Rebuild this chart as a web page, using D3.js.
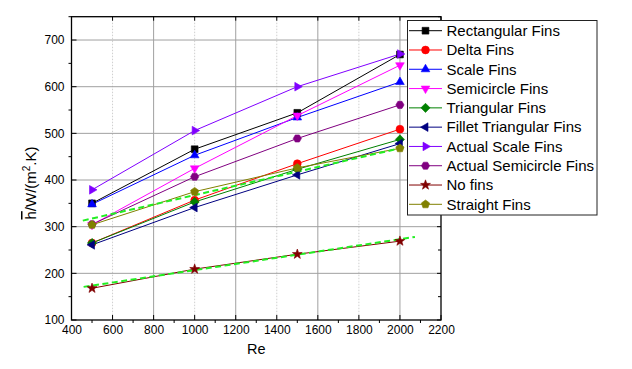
<!DOCTYPE html>
<html><head><meta charset="utf-8">
<script src="https://cdn.jsdelivr.net/npm/d3@7"></script>
<style>
body{margin:0;background:#fff;}
text{font-family:"Liberation Sans",Arial,sans-serif;fill:#000;}
</style></head>
<body><svg id="c" width="632" height="369"></svg>
<script>
const reValues = [500, 1000, 1500, 2000];
const seriesNames = ["Rectangular Fins","Delta Fins","Scale Fins","Semicircle Fins","Triangular Fins","Fillet Triangular Fins","Actual Scale Fins","Actual Semicircle Fins","No fins","Straight Fins"];
const rectangular = [350, 466, 544, 669];
const delta = [265, 357, 435, 509];
const scale = [348, 453, 534, 610];
const semicircle = [304, 425, 538, 646];
const triangular = [265, 353, 423, 487];
const filletTriangular = [261, 341, 411, 478];
const actualScale = [379, 506, 600, 670];
const actualSemicircle = [305, 407, 489, 561];
const noFins = [168, 209, 241, 269];
const straight = [304, 375, 426, 468];
const seriesColors = ["#000000","#ff0000","#0000ff","#ff00ff","#008000","#000080","#8000ff","#800080","#800000","#808000"];
const seriesMarkers = ["square","circle","up","down","diamond","left","right","hexagon","star","pentagon"];
const fitStraight = [[455, 313], [2050, 473]];
const fitNoFins = [[459, 171], [2073, 278]];
const xTicks = [400,600,800,1000,1200,1400,1600,1800,2000,2200];
const yTicks = [100,200,300,400,500,600,700];

const seriesValues = [rectangular, delta, scale, semicircle, triangular, filletTriangular, actualScale, actualSemicircle, noFins, straight];

const svg = d3.select("#c");
const L = 71.5, R = 441, T = 16.7, B = 320;
const x = d3.scaleLinear().domain([400, 2200]).range([L, R]);
const y = d3.scaleLinear().domain([100, 750]).range([B, T]);

// grid
const g = svg.append("g");
xTicks.forEach(t => {
  if (t === 400 || t === 2200) return;
  const major = (t % 400 === 0);
  g.append("line").attr("x1", x(t)).attr("x2", x(t)).attr("y1", T).attr("y2", B)
    .attr("stroke", major ? "#a0a0a0" : "#cfcfcf").attr("stroke-width", 1)
    .attr("stroke-dasharray", major ? null : "1.5,1.5");
});
yTicks.forEach(t => {
  if (t === 100) return;
  g.append("line").attr("x1", L).attr("x2", R).attr("y1", y(t)).attr("y2", y(t))
    .attr("stroke", "#a0a0a0").attr("stroke-width", 1);
});

// axes
const xAxis = d3.axisBottom(x).tickValues(xTicks).tickSize(0).tickPadding(5).tickFormat(d3.format("d"));
const yAxis = d3.axisLeft(y).tickValues(yTicks).tickSize(0).tickPadding(7).tickFormat(d3.format("d"));
const xa = svg.append("g").attr("transform", `translate(0,${B})`).call(xAxis);
const ya = svg.append("g").attr("transform", `translate(${L},0)`).call(yAxis);
[xa, ya].forEach(a => { a.select(".domain").remove(); a.selectAll("text").attr("font-size", 12).attr("font-family", "Liberation Sans, Arial, sans-serif").attr("fill", "#000"); });

// ticks
const tk = svg.append("g").attr("stroke", "#000").attr("stroke-width", 1);
yTicks.forEach(t => {
  tk.append("line").attr("x1", L).attr("x2", L + 5).attr("y1", y(t)).attr("y2", y(t));
  tk.append("line").attr("x1", R).attr("x2", R - 4).attr("y1", y(t)).attr("y2", y(t));
});
d3.range(150, 751, 100).forEach(t => {
  tk.append("line").attr("x1", L).attr("x2", L - 3).attr("y1", y(t)).attr("y2", y(t));
  tk.append("line").attr("x1", R).attr("x2", R - 3).attr("y1", y(t)).attr("y2", y(t));
});
xTicks.forEach(t => {
  tk.append("line").attr("x1", x(t)).attr("x2", x(t)).attr("y1", B).attr("y2", B - 5);
  tk.append("line").attr("x1", x(t)).attr("x2", x(t)).attr("y1", T).attr("y2", T + 4);
});
d3.range(500, 2200, 200).forEach(t => {
  tk.append("line").attr("x1", x(t)).attr("x2", x(t)).attr("y1", B).attr("y2", B + 3);
});
svg.append("rect").attr("x", L).attr("y", T).attr("width", R - L).attr("height", B - T)
  .attr("fill", "none").attr("stroke", "#000").attr("stroke-width", 1.3);

// marker path
function markerPath(type, cx, cy) {
  const poly = (n, r, rot) => {
    const pts = d3.range(n).map(i => {
      const a = rot + i * 2 * Math.PI / n;
      return [cx + r * Math.cos(a), cy + r * Math.sin(a)];
    });
    return "M" + pts.map(p => p.join(",")).join("L") + "Z";
  };
  switch (type) {
    case "square": return poly(4, 4.8, Math.PI / 4);
    case "circle": return d3.path ? (() => { const p = d3.path(); p.arc(cx, cy, 3.9, 0, 2 * Math.PI); return p.toString(); })() : "";
    case "up": return poly(3, 5, -Math.PI / 2);
    case "down": return poly(3, 5, Math.PI / 2);
    case "left": return poly(3, 5, Math.PI);
    case "right": return poly(3, 5, 0);
    case "diamond": return poly(4, 4.6, 0);
    case "hexagon": return poly(6, 4.1, 0);
    case "pentagon": return poly(5, 4.3, -Math.PI / 2);
    case "star": {
      const pts = d3.range(10).map(i => {
        const r = i % 2 === 0 ? 5.2 : 2.1;
        const a = -Math.PI / 2 + i * Math.PI / 5;
        return [cx + r * Math.cos(a), cy + r * Math.sin(a)];
      });
      return "M" + pts.map(p => p.join(",")).join("L") + "Z";
    }
  }
}

// series lines
const line = d3.line().x(d => x(d[0])).y(d => y(d[1]));
const plot = svg.append("g");
seriesValues.forEach((vals, i) => {
  plot.append("path").datum(reValues.map((r, j) => [r, vals[j]]))
    .attr("d", line).attr("fill", "none").attr("stroke", seriesColors[i]).attr("stroke-width", 1);
});
// fit lines
[fitStraight, fitNoFins].forEach(f => {
  plot.append("path").datum(f).attr("d", line).attr("fill", "none")
    .attr("stroke", "#22ee22").attr("stroke-width", 2).attr("stroke-dasharray", "6,3.5");
});
// markers
seriesValues.forEach((vals, i) => {
  reValues.forEach((r, j) => {
    plot.append("path").attr("d", markerPath(seriesMarkers[i], x(r), y(vals[j])))
      .attr("fill", seriesColors[i]).attr("stroke", seriesColors[i]).attr("stroke-width", 0.6);
  });
});

// legend
const lg = svg.append("g");
lg.append("rect").attr("x", 407.5).attr("y", 20.5).attr("width", 189.5).attr("height", 194.5)
  .attr("fill", "#fff").attr("stroke", "#222").attr("stroke-width", 1);
seriesNames.forEach((n, i) => {
  const yy = 30.7 + i * 19.29;
  lg.append("line").attr("x1", 409).attr("x2", 442).attr("y1", yy).attr("y2", yy)
    .attr("stroke", seriesColors[i]).attr("stroke-width", 1);
  lg.append("path").attr("d", markerPath(seriesMarkers[i], 425.5, yy))
    .attr("fill", seriesColors[i]).attr("stroke", seriesColors[i]).attr("stroke-width", 0.6);
  lg.append("text").attr("x", 446.5).attr("y", yy + 5.3).attr("font-size", 15).text(n);
});

// axis titles
svg.append("text").attr("x", x(1300)).attr("y", 354).attr("text-anchor", "middle")
  .attr("font-size", 14.5).text("Re");
const yt = svg.append("text").attr("transform", "translate(36,183) rotate(-90)")
  .attr("text-anchor", "middle").attr("font-size", 15);
yt.append("tspan").attr("style", "text-decoration: overline").text("h");
yt.append("tspan").text("/W/(m");
yt.append("tspan").attr("font-size", 10).attr("dy", -6).text("2");
yt.append("tspan").attr("dy", 6).text(".K)");
</script></body></html>
